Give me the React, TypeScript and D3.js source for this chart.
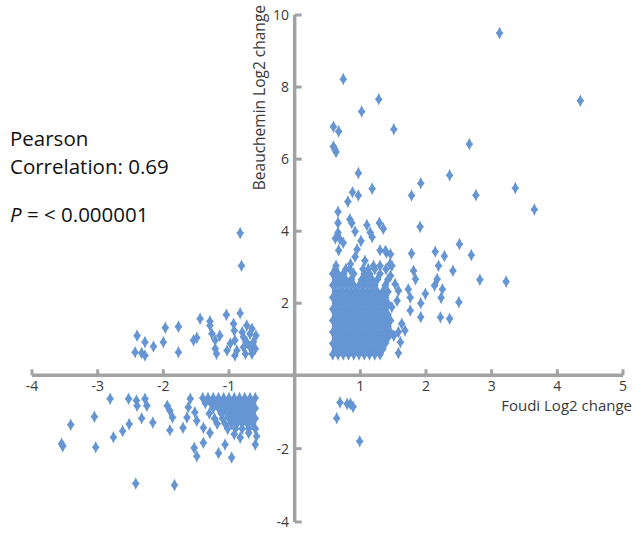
import React from "react";
import * as d3 from "d3";

// ---- Data (Foudi log2 change, Beauchemin log2 change) ----
const upperRightScatter: [number, number][] = [
  [3.12, 9.5], [4.35, 7.62], [0.74, 8.22], [1.28, 7.66], [1.02, 7.32], [1.51, 6.83],
  [0.59, 6.9], [0.67, 6.77], [0.59, 6.35], [0.63, 6.2], [0.61, 6.28], [2.66, 6.42],
  [0.97, 5.61], [1.92, 5.33], [2.36, 5.55], [1.18, 5.18], [0.88, 5.08], [2.76, 5.0],
  [3.36, 5.2], [3.65, 4.6], [0.97, 4.99], [0.81, 4.82], [1.78, 4.99], [0.66, 4.54],
  [0.84, 4.33], [0.66, 4.23], [0.87, 4.23], [1.1, 4.17], [1.29, 4.23], [1.35, 4.07],
  [1.91, 4.12], [0.66, 3.96], [0.92, 3.99], [1.15, 3.96], [0.62, 3.8], [0.69, 3.78],
  [0.74, 3.68], [1.01, 3.73], [1.18, 3.84], [0.67, 3.47], [0.95, 3.5], [1.3, 3.47],
  [1.4, 3.41], [1.78, 3.38], [2.14, 3.43], [2.28, 3.31], [2.51, 3.64], [2.69, 3.34],
  [0.92, 3.29], [1.07, 3.18], [1.2, 3.04], [1.3, 3.04], [0.63, 3.04], [0.85, 3.09],
  [1.45, 3.09], [1.81, 2.9], [2.19, 3.04], [2.41, 2.9], [1.84, 2.67], [2.13, 2.49],
  [2.17, 2.67], [2.25, 2.39], [2.82, 2.65], [3.22, 2.6], [1.73, 2.39], [1.99, 2.26],
  [1.76, 2.16], [2.23, 2.15], [1.92, 2.0], [2.5, 2.03], [1.76, 1.8], [1.92, 1.62],
  [2.22, 1.61], [2.36, 1.57], [1.63, 1.43], [1.68, 1.24], [1.58, 1.2], [1.51, 1.1],
  [1.61, 0.92], [1.58, 0.62],
  [1.38, 3.45], [1.46, 3.36], [1.48, 3.04], [1.46, 2.76], [1.53, 2.53], [1.58, 2.35],
  [1.56, 2.07], [1.48, 1.89],
];

// dense core, one row per y value: [y, xs]
const upperRightCore: [number, number[]][] = [
  [0.58, [0.58, 0.66, 0.74, 0.82, 0.9, 0.98, 1.06, 1.14, 1.22, 1.3]],
  [0.72, [0.62, 0.7, 0.78, 0.86, 0.94, 1.02, 1.1, 1.18, 1.26, 1.34]],
  [0.88, [0.58, 0.66, 0.74, 0.82, 0.9, 0.98, 1.06, 1.14, 1.22, 1.3, 1.38]],
  [1.04, [0.62, 0.7, 0.78, 0.86, 0.94, 1.02, 1.1, 1.18, 1.26, 1.34, 1.42]],
  [1.2, [0.58, 0.66, 0.74, 0.82, 0.9, 0.98, 1.06, 1.14, 1.22, 1.3, 1.38, 1.46]],
  [1.36, [0.62, 0.7, 0.78, 0.86, 0.94, 1.02, 1.1, 1.18, 1.26, 1.34, 1.42]],
  [1.52, [0.58, 0.66, 0.74, 0.82, 0.9, 0.98, 1.06, 1.14, 1.22, 1.3, 1.38, 1.46]],
  [1.68, [0.62, 0.7, 0.78, 0.86, 0.94, 1.02, 1.1, 1.18, 1.26, 1.34, 1.42]],
  [1.84, [0.58, 0.66, 0.74, 0.82, 0.9, 0.98, 1.06, 1.14, 1.22, 1.3, 1.38]],
  [2.0, [0.62, 0.7, 0.78, 0.86, 0.94, 1.02, 1.1, 1.18, 1.26, 1.34, 1.42]],
  [2.16, [0.58, 0.66, 0.74, 0.82, 0.9, 0.98, 1.06, 1.14, 1.22, 1.3, 1.38]],
  [2.32, [0.62, 0.7, 0.78, 0.86, 0.94, 1.02, 1.1, 1.18, 1.26, 1.34, 1.42]],
  [2.5, [0.58, 0.66, 0.74, 0.82, 0.9, 0.98, 1.06, 1.14, 1.22, 1.38]],
  [2.66, [0.62, 0.7, 0.78, 0.86, 1.02, 1.1, 1.18, 1.26, 1.42]],
  [2.82, [0.58, 0.66, 0.74, 0.9, 1.06, 1.14, 1.3]],
  [2.95, [0.62, 0.78, 0.84, 1.04, 1.12, 1.22, 1.39]],
];

const upperLeft: [number, number][] = [
  [-0.83, 3.95], [-0.81, 3.04],
  [-0.83, 1.72], [-1.04, 1.68], [-1.44, 1.57], [-1.29, 1.5], [-1.29, 1.38], [-0.93, 1.43],
  [-0.92, 1.24], [-1.97, 1.32], [-1.77, 1.35], [-2.4, 1.1], [-2.28, 0.92], [-2.15, 0.8],
  [-2.0, 0.92], [-2.43, 0.64], [-2.33, 0.62], [-2.28, 0.55], [-1.77, 0.64], [-1.54, 0.97],
  [-1.49, 1.04], [-1.26, 1.15], [-1.21, 0.97], [-1.14, 1.1], [-1.21, 0.74], [-1.19, 0.6],
  [-0.98, 0.88], [-0.91, 0.97], [-0.88, 0.69], [-0.91, 0.55], [-0.73, 1.38], [-0.65, 1.29],
  [-0.68, 1.15], [-0.59, 1.1], [-0.78, 1.06], [-0.73, 0.92], [-0.63, 0.92], [-0.78, 0.78],
  [-0.68, 0.78], [-0.6, 0.74], [-0.75, 0.6], [-0.65, 0.6], [-0.8, 1.2], [-1.03, 0.69],
];

const lowerLeftScatter: [number, number][] = [
  [-2.81, -0.64], [-2.53, -0.64], [-2.41, -0.69], [-2.28, -0.64], [-2.25, -0.83], [-2.4, -0.83],
  [-3.05, -1.13], [-3.41, -1.35], [-3.55, -1.87], [-3.53, -1.93], [-3.03, -1.96], [-2.76, -1.69],
  [-2.62, -1.52], [-2.52, -1.33], [-2.33, -1.17], [-2.16, -1.29], [-2.42, -2.95], [-1.83, -2.99],
  [-1.94, -0.83], [-1.9, -0.97], [-1.86, -1.15], [-1.9, -1.5], [-1.7, -1.43], [-1.64, -1.15],
  [-1.59, -0.64], [-1.62, -0.87], [-1.52, -1.01], [-1.49, -1.24], [-1.53, -1.98], [-1.49, -2.21],
  [-1.39, -1.84], [-1.39, -1.43], [-1.29, -1.57], [-1.16, -2.12], [-1.06, -1.89], [-0.96, -2.24],
  [-0.92, -1.61], [-0.83, -1.7], [-0.7, -1.57], [-0.6, -1.89], [-0.58, -1.66],
];

const lowerLeftCore: [number, number[]][] = [
  [-0.62, [-0.6, -0.68, -0.76, -0.84, -0.92, -1.0, -1.08, -1.16, -1.24, -1.32, -1.4]],
  [-0.76, [-0.64, -0.72, -0.8, -0.88, -0.96, -1.04, -1.12, -1.2, -1.28, -1.36]],
  [-0.9, [-0.6, -0.68, -0.76, -0.84, -0.92, -1.0, -1.08, -1.16, -1.24]],
  [-1.04, [-0.64, -0.72, -0.8, -0.88, -0.96, -1.04, -1.12, -1.3]],
  [-1.18, [-0.6, -0.68, -0.76, -0.84, -0.92, -1.0, -1.1, -1.22]],
  [-1.32, [-0.64, -0.72, -0.8, -0.88, -0.96, -1.06, -1.18]],
  [-1.46, [-0.6, -0.7, -0.8, -0.9, -1.02]],
];

const lowerRight: [number, number][] = [
  [0.69, -0.74], [0.8, -0.78], [0.85, -0.78], [0.89, -0.86], [0.64, -1.17], [0.99, -1.8],
];

const xTicks = [-4, -3, -2, -1, 1, 2, 3, 4, 5];
const yTicks = [10, 8, 6, 4, 2, -2, -4];
const xTitle = "Foudi Log2 change";
const yTitle = "Beauchemin Log2 change";
const statLines = ["Pearson", "Correlation: 0.69"];
const pValue = "= < 0.000001";

const W = 634;
const H = 533;

export default function App() {
  const x = d3.scaleLinear().domain([-4, 5]).range([32, 623]);
  const y = d3.scaleLinear().domain([-4, 0, 10]).range([522, 375.3, 15]);

  const expand = (rows: [number, number[]][]) =>
    rows.flatMap(([yy, xs]) => xs.map((xx) => [xx, yy] as [number, number]));

  const points: [number, number][] = [
    ...expand(upperRightCore),
    ...upperRightScatter,
    ...upperLeft,
    ...expand(lowerLeftCore),
    ...lowerLeftScatter,
    ...lowerRight,
  ];

  const marker =
    "M0,-6.3 Q1.7,-1.7 3.9,0 Q1.7,1.7 0,6.3 Q-1.7,1.7 -3.9,0 Q-1.7,-1.7 0,-6.3Z";

  const axisColor = "#a2a2a2";
  const labelFont = "'Open Sans', 'DejaVu Sans', sans-serif";
  const x0 = x(0);
  const y0 = y(0);

  return (
    <svg
      width={W}
      height={H}
      style={{ position: "absolute", left: 0, top: 0, background: "#fff" }}
    >
      {/* stats text */}
      <g fontFamily={labelFont} fontSize={20.5} fill="#111">
        <text x={10} y={145.5}>{statLines[0]}</text>
        <text x={10} y={173.5}>{statLines[1]}</text>
        <text x={10} y={221.5}>
          <tspan fontStyle="italic">P</tspan>
          <tspan> {pValue}</tspan>
        </text>
      </g>

      {/* points */}
      <g fill="#6595d3">
        {points.map(([px, py], i) => (
          <path key={i} d={marker} transform={`translate(${x(px)},${y(py)})`} />
        ))}
      </g>

      {/* x axis */}
      <line x1={x(-4)} x2={x(5)} y1={y0} y2={y0} stroke={axisColor} strokeWidth={3.5} />
      {xTicks.map((t) => (
        <line key={t} x1={x(t)} x2={x(t)} y1={y0} y2={y0 - 6} stroke={axisColor} strokeWidth={3} />
      ))}
      <g fontFamily={labelFont} fontSize={14} fill="#3a3a3a" textAnchor="middle">
        {xTicks.map((t) => (
          <text key={t} x={x(t)} y={390.5}>
            {t < 0 ? `-${Math.abs(t)}` : t}
          </text>
        ))}
      </g>
      <text
        x={632}
        y={411}
        textAnchor="end"
        fontFamily={labelFont}
        fontSize={15}
        fill="#3a3a3a"
      >
        {xTitle}
      </text>

      {/* y axis */}
      <line x1={x0} x2={x0} y1={y(10)} y2={y(-4)} stroke={axisColor} strokeWidth={3.5} />
      {yTicks.map((t) => (
        <line key={t} x1={x0} x2={x0 + 7} y1={y(t)} y2={y(t)} stroke={axisColor} strokeWidth={3} />
      ))}
      <g fontFamily={labelFont} fontSize={14} fill="#3a3a3a" textAnchor="end">
        {yTicks.map((t) => (
          <text key={t} x={289} y={y(t)} dy="0.36em">
            {t < 0 ? `-${Math.abs(t)}` : t}
          </text>
        ))}
      </g>
      <text
        transform="translate(265,5) rotate(-90)"
        textAnchor="end"
        fontFamily={labelFont}
        fontSize={15.5}
        fill="#3a3a3a"
      >
        {yTitle}
      </text>
    </svg>
  );
}
